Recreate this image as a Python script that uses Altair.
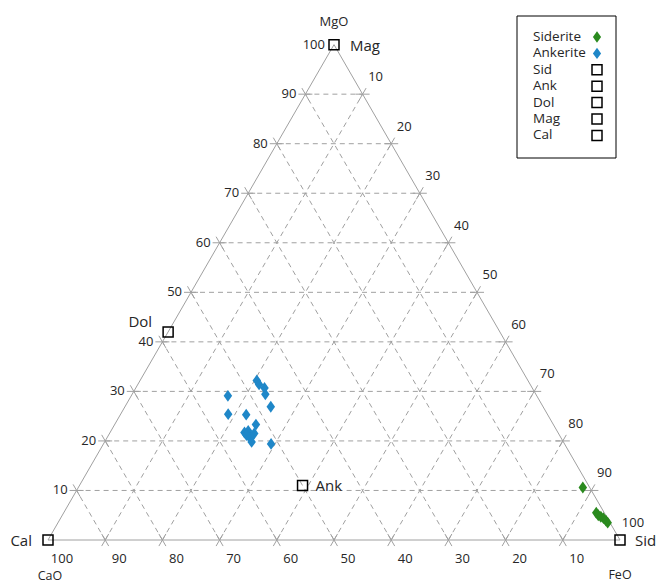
import altair as alt
import pandas as pd

# ---------------- data (wt% CaO / MgO / FeO) ----------------
sid_CaO = [1.2, 1.4, 1.3, 1.0, 0.7, 0.5, 0.4]
sid_MgO = [10.6, 5.5, 5.0, 4.7, 4.4, 3.9, 3.5]
sid_FeO = [88.2, 93.1, 93.7, 94.3, 94.9, 95.6, 96.1]

ank_CaO = [54.0, 55.8, 47.4, 47.4, 46.8, 47.3, 47.6, 52.7, 52.0, 54.8, 54.0, 54.7, 54.4, 54.5, 53.2, 51.3]
ank_MgO = [29.1, 25.4, 32.2, 31.4, 30.7, 29.4, 26.9, 25.3, 23.3, 21.7, 22.0, 21.2, 20.5, 19.8, 21.5, 19.4]
ank_FeO = [16.9, 18.8, 20.4, 21.2, 22.5, 23.3, 25.5, 22.0, 24.7, 23.5, 24.0, 24.1, 25.1, 25.7, 25.3, 29.3]

em_names = ["Sid", "Ank", "Dol", "Mag", "Cal"]
em_CaO = [0, 50, 58, 0, 100]
em_MgO = [0, 11, 42, 100, 0]
em_FeO = [100, 39, 0, 0, 0]

axis_titles = ["CaO", "MgO", "FeO"]
grid_values = [10, 20, 30, 40, 50, 60, 70, 80, 90]
tick_labels = [10, 20, 30, 40, 50, 60, 70, 80, 90, 100]
legend_labels = ["Siderite", "Ankerite", "Sid", "Ank", "Dol", "Mag", "Cal"]

# ---------------- tables ----------------
sid = pd.DataFrame({"CaO": sid_CaO, "MgO": sid_MgO, "FeO": sid_FeO})
ank = pd.DataFrame({"CaO": ank_CaO, "MgO": ank_MgO, "FeO": ank_FeO})
em = pd.DataFrame({"name": em_names, "CaO": em_CaO, "MgO": em_MgO, "FeO": em_FeO})

rows = []
for v in grid_values:
    rows.append(dict(Ca1=100 - v, Mg1=v, Fe1=0, Ca2=0, Mg2=v, Fe2=100 - v))      # MgO = v
    rows.append(dict(Ca1=v, Mg1=0, Fe1=100 - v, Ca2=v, Mg2=100 - v, Fe2=0))      # CaO = v
    rows.append(dict(Ca1=100 - v, Mg1=0, Fe1=v, Ca2=0, Mg2=100 - v, Fe2=v))      # FeO = v
grid = pd.DataFrame(rows)

sides = pd.DataFrame([
    dict(Ca1=100, Mg1=0, Fe1=0, Ca2=0, Mg2=0, Fe2=100),
    dict(Ca1=0, Mg1=0, Fe1=100, Ca2=0, Mg2=100, Fe2=0),
    dict(Ca1=0, Mg1=100, Fe1=0, Ca2=100, Mg2=0, Fe2=0),
])

tl = pd.DataFrame({"v": tick_labels})
vert = pd.DataFrame({"title": axis_titles,
                     "CaO": [100, 0, 0], "MgO": [0, 100, 0], "FeO": [0, 0, 100]})
leg = pd.DataFrame({"label": legend_labels, "i": list(range(len(legend_labels)))})

# ---------------- scales ----------------
PX = 5.72  # pixels per composition unit
xs = alt.Scale(domain=[-48 / PX, 100 + 38 / PX], nice=False, zero=False)
ys = alt.Scale(domain=[-43 / PX, 540 / PX], nice=False, zero=False)
X = lambda f: alt.X(f, type="quantitative", scale=xs, axis=None)
Y = lambda f: alt.Y(f, type="quantitative", scale=ys, axis=None)

S3 = "sqrt(3)/2"
def tern(ch):
    return ch.transform_calculate(
        tot="datum.CaO + datum.MgO + datum.FeO"
    ).transform_calculate(
        x="100*(datum.FeO + datum.MgO/2)/datum.tot",
        y=f"100*datum.MgO*{S3}/datum.tot",
    )

def seg(ch):
    return ch.transform_calculate(
        x1="datum.Fe1 + datum.Mg1/2", y1=f"datum.Mg1*{S3}",
        x2="datum.Fe2 + datum.Mg2/2", y2=f"datum.Mg2*{S3}",
    )

GRAY = "#a0a0a0"
TXT = "#262626"
FONT = "Open Sans"
DIAMOND = "M0,-1L0.72,0L0,1L-0.72,0Z"
GREEN = "#2a8a1e"
BLUE = "#1f87c8"
E = 7 / PX

side_layer = seg(alt.Chart(sides)).mark_rule(color=GRAY, strokeWidth=1).encode(
    x=X("x1"), y=Y("y1"), x2="x2", y2="y2")

grid_layer = seg(alt.Chart(grid)).mark_rule(
    color=GRAY, strokeWidth=1, strokeDash=[5, 4]).encode(
    x=X("x1"), y=Y("y1"), x2="x2", y2="y2")

tick_base = seg(alt.Chart(grid)).transform_calculate(
    L="sqrt(pow(datum.x2-datum.x1,2)+pow(datum.y2-datum.y1,2))"
).transform_calculate(
    ux="(datum.x2-datum.x1)/datum.L", uy="(datum.y2-datum.y1)/datum.L"
).transform_calculate(
    ax1=f"datum.x1-datum.ux*{E}", ay1=f"datum.y1-datum.uy*{E}",
    ax2=f"datum.x1+datum.ux*{E}", ay2=f"datum.y1+datum.uy*{E}",
    bx1=f"datum.x2-datum.ux*{E}", by1=f"datum.y2-datum.uy*{E}",
    bx2=f"datum.x2+datum.ux*{E}", by2=f"datum.y2+datum.uy*{E}",
)
tick_a = tick_base.mark_rule(color=GRAY, strokeWidth=1).encode(
    x=X("ax1"), y=Y("ay1"), x2="ax2", y2="ay2")
tick_b = tick_base.mark_rule(color=GRAY, strokeWidth=1).encode(
    x=X("bx1"), y=Y("by1"), x2="bx2", y2="by2")

# tick labels
mg_lab = alt.Chart(tl).transform_calculate(
    x="datum.v/2", y=f"datum.v*{S3}"
).mark_text(align="right", baseline="middle", dx=-9, font=FONT, fontSize=13, color=TXT).encode(
    x=X("x"), y=Y("y"), text="v:Q")
ca_lab = alt.Chart(tl).transform_calculate(
    x="100-datum.v", y="0"
).mark_text(align="center", baseline="middle", dx=14, dy=19, font=FONT, fontSize=13, color=TXT).encode(
    x=X("x"), y=Y("y"), text="v:Q")
fe_lab = alt.Chart(tl).transform_calculate(
    x="datum.v + (100-datum.v)/2", y=f"(100-datum.v)*{S3}"
).mark_text(align="center", baseline="middle", dx=13, dy=-17, font=FONT, fontSize=13, color=TXT).encode(
    x=X("x"), y=Y("y"), text="v:Q")

# axis titles at vertices
title_base = tern(alt.Chart(vert))
t_mg = title_base.transform_filter("datum.title == 'MgO'").mark_text(
    align="center", baseline="middle", dy=-23, font=FONT, fontSize=13, color=TXT).encode(
    x=X("x"), y=Y("y"), text="title:N")
t_ca = title_base.transform_filter("datum.title == 'CaO'").mark_text(
    align="center", baseline="middle", dx=2, dy=35.5, font=FONT, fontSize=12.5, color=TXT).encode(
    x=X("x"), y=Y("y"), text="title:N")
t_fe = title_base.transform_filter("datum.title == 'FeO'").mark_text(
    align="center", baseline="middle", dx=0, dy=35, font=FONT, fontSize=12.5, color=TXT).encode(
    x=X("x"), y=Y("y"), text="title:N")

# end-members
em_base = tern(alt.Chart(em))
em_pts = em_base.mark_point(shape="square", size=100, filled=False, color="black",
                            strokeWidth=1.5, opacity=1).encode(x=X("x"), y=Y("y"))
def em_label(name, **kw):
    return em_base.transform_filter(f"datum.name == '{name}'").mark_text(
        baseline="middle", font=FONT, fontSize=15, color=TXT, **kw).encode(
        x=X("x"), y=Y("y"), text="name:N")
em_labs = [
    em_label("Mag", align="left", dx=16, dy=1),
    em_label("Sid", align="left", dx=15, dy=1),
    em_label("Cal", align="right", dx=-16, dy=1),
    em_label("Dol", align="right", dx=-16, dy=-10),
    em_label("Ank", align="left", dx=13, dy=0),
]

sid_pts = tern(alt.Chart(sid)).mark_point(shape=DIAMOND, size=140, filled=True,
                                          color=GREEN, opacity=1).encode(x=X("x"), y=Y("y"))
ank_pts = tern(alt.Chart(ank)).mark_point(shape=DIAMOND, size=140, filled=True,
                                          color=BLUE, opacity=1).encode(x=X("x"), y=Y("y"))

# legend (placed in the upper right corner)
box = alt.Chart(pd.DataFrame({"k": [0]})).mark_rect(
    fill="white", stroke="black", strokeWidth=1).encode(
    x=alt.value(517), x2=alt.value(616), y=alt.value(16), y2=alt.value(158))
leg_base = alt.Chart(leg).transform_calculate(
    lx=f"(533-48)/{PX}", sx=f"(597-48)/{PX}", ly=f"(540-(37+16.4*datum.i))/{PX}")
leg_txt = leg_base.mark_text(align="left", baseline="middle", font=FONT, fontSize=13.5,
                             color=TXT).encode(x=X("lx"), y=Y("ly"), text="label:N")
leg_sid = leg_base.transform_filter("datum.i == 0").mark_point(
    shape=DIAMOND, size=130, filled=True, color=GREEN, opacity=1).encode(x=X("sx"), y=Y("ly"))
leg_ank = leg_base.transform_filter("datum.i == 1").mark_point(
    shape=DIAMOND, size=130, filled=True, color=BLUE, opacity=1).encode(x=X("sx"), y=Y("ly"))
leg_sq = leg_base.transform_filter("datum.i >= 2").mark_point(
    shape="square", size=100, filled=False, color="black", strokeWidth=1.5, opacity=1).encode(
    x=X("sx"), y=Y("ly"))

chart = alt.layer(
    grid_layer, tick_a, tick_b, side_layer,
    mg_lab, ca_lab, fe_lab, t_mg, t_ca, t_fe,
    sid_pts, ank_pts, em_pts, *em_labs,
    box, leg_txt, leg_sid, leg_ank, leg_sq,
).properties(
    width=658, height=583, autosize=alt.AutoSizeParams(type="none"), padding=0,
    background="white",
).configure_view(stroke=None)

chart.save("out.html", embed_options={"renderer": "svg", "actions": False})
